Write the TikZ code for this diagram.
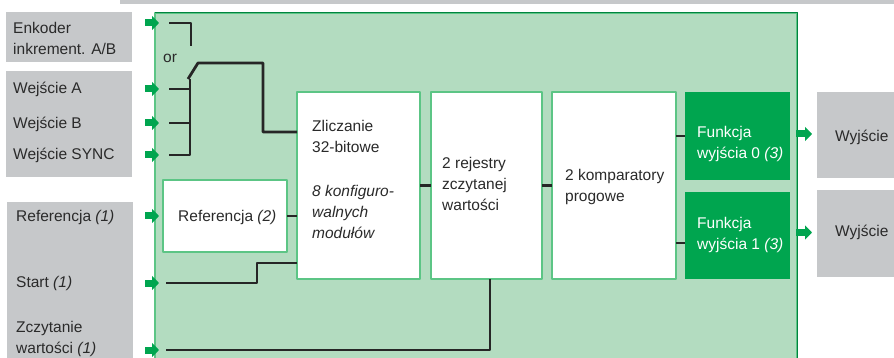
\documentclass[tikz,border=0pt]{standalone}
\usepackage{fontspec}
\setmainfont{Liberation Sans}
\usetikzlibrary{calc,arrows.meta}
\definecolor{szary}{HTML}{C6C8CA}
\definecolor{jasnyziel}{HTML}{B3DCC0}
\definecolor{ramka}{HTML}{5CC585}
\definecolor{ziel}{HTML}{00A54F}
\definecolor{tekst}{HTML}{2A2A2A}

\begin{document}
\begin{tikzpicture}[x=1pt,y=-1pt,line join=round,font=\fontsize{15.5}{21}\selectfont,
  box/.style={anchor=north west,inner sep=0pt,outer sep=0pt},
  blok/.style={box,fill=white,draw=ramka,line width=1.2pt},
  txt/.style={anchor=west,align=left,inner sep=0pt,text=tekst},
  wire/.style={line width=2.8pt,black!85},
  garrow/.style={-{Triangle[length=7pt,width=14pt]},line width=7pt,ziel}]
  \useasboundingbox (0,0) rectangle (894,358);

  % tlo: pasek, szare pola wejsc i wyjsc, zielony panel
  \node[box,fill=szary,minimum width=780,minimum height=9.5] (pasek) at (120,-5) {};
  \node[box,fill=szary,minimum width=126,minimum height=50] (encbox) at (6,12) {};
  \node[box,fill=szary,minimum width=126,minimum height=106] (wbox) at (6,71) {};
  \node[box,fill=szary,minimum width=126,minimum height=170] (rbox) at (7,202) {};
  \node[box,fill=szary,minimum width=80,minimum height=86] (out0) at (817,92) {};
  \node[box,fill=szary,minimum width=80,minimum height=87] (out1) at (817,190) {};
  \node[box,fill=jasnyziel,draw=ramka,line width=1.2pt,minimum width=642,minimum height=350] (panel) at (155,13) {};
  \draw[ziel!80!black,line width=1pt] (panel.north west) -- (panel.north east) -- (panel.south east);

  % bloki
  \node[blok,minimum width=124,minimum height=72] (ref) at (163,180) {};
  \node[txt] at (178,217) {Referencja \textit{(2)}};
  \node[blok,minimum width=123,minimum height=187] (cnt) at (297,92) {};
  \node[blok,minimum width=111,minimum height=187] (reg) at (431,92) {};
  \node[blok,minimum width=124,minimum height=187] (cmp) at (552,92) {};
  \node[box,fill=ziel,minimum width=105,minimum height=88] (f0) at (685,92) {};
  \node[box,fill=ziel,minimum width=105,minimum height=87] (f1) at (685,192) {};

  % teksty
  \node[txt] (enc) at (13,38) {Enkoder\\inkrement. A/B};
  \node[txt] (wa) at (13,89) {Wejście A};
  \node[txt] (wb) at (13,124) {Wejście B};
  \node[txt] (ws) at (13,155) {Wejście SYNC};
  \node[txt] (wr) at (16,217) {Referencja \textit{(1)}};
  \node[txt] (wst) at (16,283) {Start \textit{(1)}};
  \node[txt] (wz) at (16,338.5) {Zczytanie\\wartości \textit{(1)}};
  \node[txt] (lor) at (163,58) {or};
  \node[txt] at (312,136.5) {Zliczanie\\32-bitowe};
  \node[txt,font=\fontsize{15.5}{21}\selectfont\itshape] at (312,211.5) {8 konfiguro-\\walnych\\modułów};
  \node[txt] at (442,184) {2 rejestry\\zczytanej\\wartości};
  \node[txt] at (565,186.5) {2 komparatory\\progowe};
  \node[txt,text=white] at (697,144) {Funkcja\\wyjścia 0 \textit{(3)}};
  \node[txt,text=white] at (697,235) {Funkcja\\wyjścia 1 \textit{(3)}};
  \node[txt] at (835,137) {Wyjście};
  \node[txt] at (835,232) {Wyjście};

  % polaczenia
  \coordinate (encin) at (169,23);
  \coordinate (inA) at (169,89);
  \coordinate (inB) at (169,123);
  \coordinate (inS) at (169,155);
  \coordinate (inSt) at (166,283);
  \coordinate (inRd) at (166,350);
  \coordinate (inR) at (ref.west);
  \coordinate (bus) at (190,79);
  \coordinate (swlo) at (188,79);
  \coordinate (swhi) at (198,63);
  \coordinate (bendA) at (263,132);
  \coordinate (stb) at (257,263);

  \draw[wire] (encin) -- (191,23) -- (191,46);
  \draw[wire] (bus) |- (inS);
  \draw[wire] (inA) -- (inA -| bus);
  \draw[wire] (inB) -- (inB -| bus);
  \draw[wire] (swlo) -- (swhi) -| (bendA) -- (bendA -| cnt.west);
  \draw[wire] (ref.east) -- (ref.east -| cnt.west);
  \draw[wire] (inSt) -| (stb) -- (stb -| cnt.west);
  \draw[wire] (inRd) -| ([xshift=3.5pt]reg.south);
  \draw[wire] (cnt) -- (reg);
  \draw[wire] (reg) -- (cmp);
  \draw[wire] (f0.west -| cmp.east) -- (f0.west);
  \draw[wire] ([yshift=-7.5pt]f1.west -| cmp.east) -- ([yshift=-7.5pt]f1.west);

  \foreach \c in {encin,inA,inB,inS,inR,inSt,inRd}
    \draw[garrow] ($(\c -| panel.west)+(-10,0)$) -- ($(\c -| panel.west)+(4,0)$);
  \draw[garrow] ($(out0.west -| panel.east)+(-1,-1)$) -- ($(out0.west)+(-5,-1)$);
  \draw[garrow] ($(out1.west -| panel.east)+(-1,-1)$) -- ($(out1.west)+(-5,-1)$);
\end{tikzpicture}
\end{document}
